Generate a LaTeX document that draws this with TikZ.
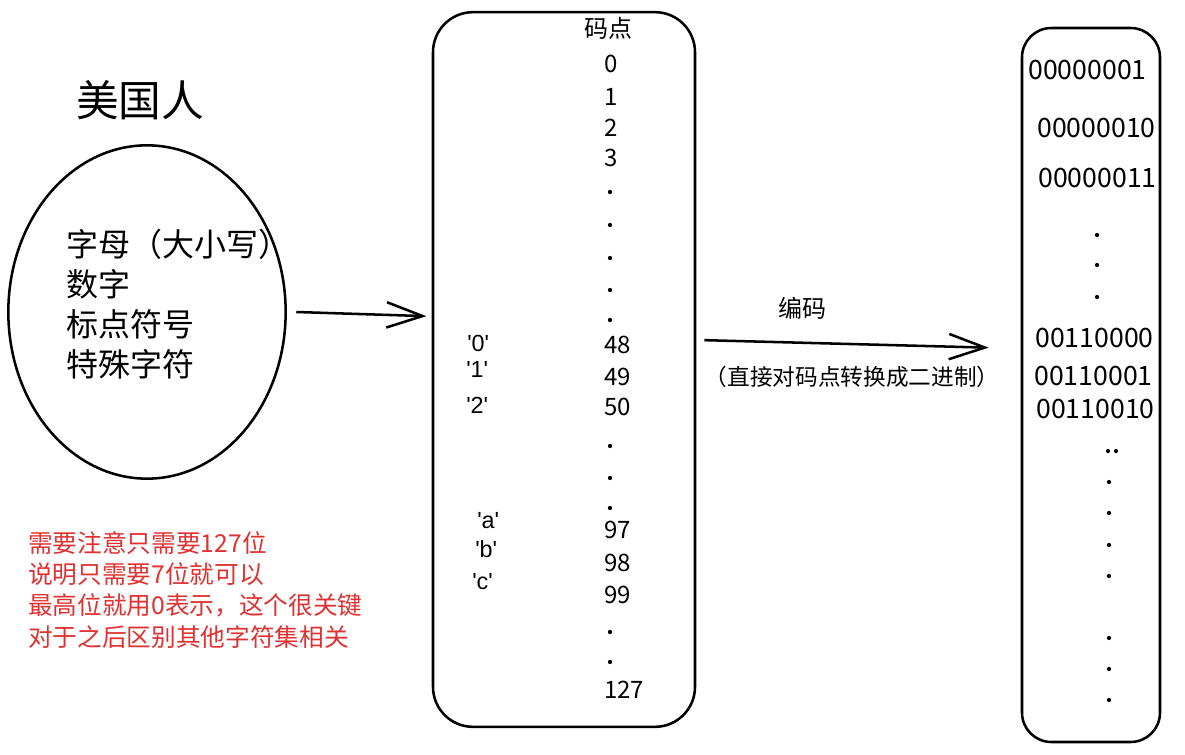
\documentclass[tikz,border=0pt]{standalone}
\usepackage{fontspec}
\setmainfont{Noto Sans CJK SC}
\newfontfamily\latinf{Liberation Sans}
\usetikzlibrary{arrows.meta,positioning,shapes.geometric}
\definecolor{notered}{HTML}{E03131}

\begin{document}
\begin{tikzpicture}[x=0.75pt,y=-0.75pt,line width=1.9pt,
  col/.style={draw,rectangle,inner sep=0pt},
  arr/.style={-{Straight Barb[length=27pt,width=19pt,line width=1.9pt]}},
  num/.style={anchor=west,inner sep=0pt,font=\fontsize{18}{18}\selectfont},
  chr/.style={anchor=west,inner sep=0pt,font=\latinf\fontsize{17.5}{17.5}\selectfont},
  bits/.style={anchor=west,inner sep=0pt,font=\fontsize{20}{20}\selectfont},
  dotm/.style={fill,circle,inner sep=0pt,minimum size=3.2pt}]
\useasboundingbox (0,0) rectangle (1185,755);
% people and their characters
\node[font=\fontsize{32}{36}\selectfont] (usa) at (140,100) {美国人};
\node[draw,ellipse,minimum width=208pt,minimum height=250pt] (circ) at (147,312) {};
\node[anchor=north west,inner sep=0pt,align=left,font=\fontsize{24}{30}\selectfont] (kinds) at (65,228)
  {字母（大小写）\\数字\\标点符号\\特殊字符};
\node[anchor=north west,inner sep=0pt,align=left,text=notered,font=\fontsize{18.5}{23.5}\selectfont] (note) at (27,530)
  {需要注意只需要127位\\说明只需要7位就可以\\最高位就用0表示，这个很关键\\对于之后区别其他字符集相关};
% code points
\node[col,rounded corners=30pt,minimum width=196.5pt,minimum height=536pt] (code) at (564,369.5) {};
\node[font=\fontsize{18}{18}\selectfont] (head) at (608,28) {码点};
\foreach \y/\t in {64/0,97/1,128/2,158/3,345/48,377/49,407/50,530/97,563/98,595/99,690/127}
  \node[num] (n\t) at (603,\y) {\t};
\foreach \y [count=\i] in {192,225,258,290,320,446,478,508,632,662}
  \node[dotm] (p\i) at (610,\y) {};
\foreach \x/\y/\t in {466/343/0,465/369/1,465/405/2,476/521/a,474/549/b,471/582/c}
  \node[chr] (c\t) at (\x,\y) {'\t'};
% binary
\node[col,rounded corners=22pt,minimum width=103.5pt,minimum height=535.5pt] (bin) at (1091,385) {};
\foreach \x/\y/\t in {1027/70/00000001,1036/128/00000010,1037/178/00000011,1034/338/00110000,1033/376/00110001,1035/409/00110010}
  \node[bits] (b\t) at (\x,\y) {\t};
\foreach \x/\y [count=\i] in {1097/235,1097/265,1097/297,1108/451,1116/451,1109/482,1109/513,1109/545,1109/576,1109/638,1109/669,1109/700}
  \node[dotm] (q\i) at (\x,\y) {};
% arrows
\draw[arr] ([xshift=7pt]circ.east) -- ([xshift=-4pt,yshift=40pt]code.west);
\draw[arr] ([xshift=6pt,yshift=22pt]code.east) -- ([xshift=-24pt,yshift=28pt]bin.west);
\node[font=\fontsize{18}{18}\selectfont] (enc) at (802,308) {编码};
\node[font=\fontsize{17}{17}\selectfont] (how) at (852,377) {（直接对码点转换成二进制）};
\end{tikzpicture}
\end{document}
